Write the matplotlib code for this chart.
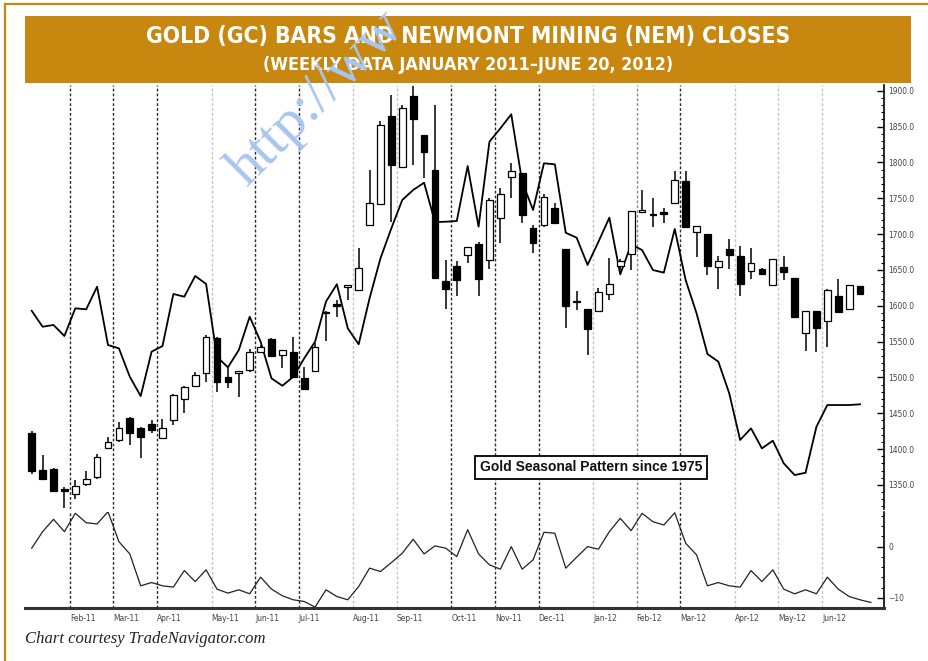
import numpy as np
import pandas as pd
import matplotlib
matplotlib.use("Agg")
import matplotlib.pyplot as plt
from matplotlib.patches import Rectangle
from matplotlib.lines import Line2D
from matplotlib.ticker import MultipleLocator, FormatStrFormatter, FixedLocator

# Weekly gold futures bars (Jan 2011 - Jun 20, 2012)
weeks = pd.date_range("2011-01-07", periods=77, freq="W-FRI")

gold_open = [1423, 1371, 1372, 1345, 1337, 1351, 1361, 1402, 1413, 1444,
             1430, 1435, 1416, 1441, 1470, 1488, 1506, 1555, 1501, 1506,
             1510, 1536, 1554, 1531, 1536, 1499, 1509, 1590, 1603, 1626,
             1622, 1713, 1742, 1865, 1793, 1892, 1838, 1789, 1634, 1656,
             1671, 1686, 1664, 1722, 1780, 1785, 1709, 1712, 1737, 1679,
             1607, 1596, 1593, 1616, 1655, 1672, 1731, 1728, 1731, 1744,
             1774, 1703, 1700, 1654, 1679, 1669, 1648, 1651, 1629, 1654,
             1639, 1562, 1593, 1579, 1614, 1596, 1628]
gold_high = [1425, 1392, 1373, 1347, 1357, 1369, 1393, 1417, 1438, 1445,
             1431, 1441, 1442, 1477, 1488, 1507, 1559, 1557, 1514, 1509,
             1540, 1545, 1555, 1539, 1557, 1514, 1548, 1593, 1608, 1629,
             1680, 1789, 1858, 1894, 1880, 1906, 1838, 1880, 1664, 1662,
             1682, 1689, 1750, 1765, 1799, 1785, 1713, 1756, 1744, 1679,
             1620, 1596, 1625, 1667, 1665, 1732, 1762, 1750, 1737, 1788,
             1788, 1711, 1700, 1669, 1693, 1683, 1680, 1653, 1665, 1669,
             1639, 1593, 1593, 1624, 1638, 1629, 1628]
gold_low = [1365, 1357, 1341, 1318, 1331, 1348, 1359, 1400, 1410, 1406,
            1387, 1422, 1414, 1434, 1450, 1488, 1494, 1480, 1485, 1473,
            1508, 1535, 1528, 1513, 1501, 1484, 1509, 1551, 1585, 1608,
            1622, 1713, 1742, 1717, 1793, 1796, 1778, 1639, 1595, 1614,
            1659, 1613, 1652, 1687, 1751, 1716, 1673, 1710, 1714, 1569,
            1594, 1532, 1593, 1608, 1650, 1650, 1731, 1710, 1716, 1744,
            1710, 1668, 1643, 1624, 1652, 1614, 1638, 1643, 1629, 1636,
            1585, 1537, 1535, 1542, 1590, 1596, 1616]
gold_close = [1369, 1359, 1342, 1342, 1349, 1359, 1389, 1410, 1429, 1423,
              1417, 1427, 1429, 1476, 1487, 1503, 1557, 1493, 1494, 1509,
              1536, 1543, 1530, 1539, 1501, 1484, 1543, 1592, 1600, 1629,
              1653, 1743, 1852, 1797, 1876, 1860, 1814, 1639, 1623, 1636,
              1682, 1637, 1748, 1756, 1788, 1727, 1687, 1752, 1716, 1599,
              1605, 1567, 1619, 1630, 1663, 1732, 1734, 1726, 1728, 1776,
              1710, 1711, 1656, 1662, 1671, 1630, 1659, 1644, 1665, 1647,
              1585, 1593, 1569, 1622, 1591, 1629, 1616]

# Newmont weekly closes (own unlabeled scale)
nem_close = [56.93, 55.83, 55.95, 55.19, 57.10, 57.03, 58.59, 54.57, 54.34, 52.38,
             51.05, 54.11, 54.50, 58.09, 57.90, 59.33, 58.78, 53.76, 53.03, 54.22,
             56.52, 54.80, 52.27, 51.76, 52.38, 53.65, 54.80, 57.56, 58.76, 55.72,
             54.62, 57.79, 60.55, 62.62, 64.57, 65.26, 65.76, 63.05, 63.07, 63.12,
             66.91, 62.73, 68.59, 69.51, 70.48, 65.83, 63.88, 67.10, 67.03, 62.31,
             61.97, 60.09, 61.69, 63.35, 59.44, 61.51, 61.12, 59.74, 59.56, 62.57,
             59.05, 56.76, 53.95, 53.42, 51.24, 48.02, 48.82, 47.44, 47.97, 46.41,
             45.60, 45.76, 48.93, 50.43, 50.43, 50.43, 50.48]

# Gold seasonal pattern since 1975 (lower pane), one extra week at the end
seasonal = [-0.31, 2.91, 5.32, 2.91, 6.49, 4.66, 4.41, 6.80, 0.97, -1.42,
            -7.63, -6.99, -7.63, -7.88, -4.66, -6.80, -4.52, -8.27, -9.05, -8.41,
            -9.18, -5.94, -8.27, -9.57, -10.35, -10.68, -11.77, -8.41, -9.71, -10.35,
            -7.77, -4.19, -4.85, -3.11, -1.28, 1.44, -1.42, 0.14, -0.31, -1.94,
            3.30, -1.42, -3.55, -4.39, 0.00, -4.39, -2.58, 2.80, 2.60, -4.19,
            -2.06, 0.00, -0.50, 2.91, 5.51, 3.11, 6.49, 4.85, 4.21, 6.60,
            0.66, -1.61, -7.63, -6.99, -7.63, -7.88, -4.66, -6.80, -4.52, -8.27,
            -9.18, -8.41, -9.18, -5.94, -8.27, -9.71, -10.35, -10.87]

# shade of the monthly separator lines
dark_months = ["Feb-11", "Mar-11", "Apr-11", "Jun-11", "Jul-11", "Oct-11",
               "Nov-11", "Dec-11", "Mar-12"]
medium_months = ["Feb-12"]

ORANGE = "#c8870e"
NARROW = ["DejaVu Sans"]

W, H = 929, 661
fig = plt.figure(figsize=(W / 100, H / 100), dpi=100)


def rect(x0, y0, x1, y1):
    # pixel box -> figure fraction [left, bottom, width, height]
    return [x0 / W, 1 - y1 / H, (x1 - x0) / W, (y1 - y0) / H]


ax1 = fig.add_axes(rect(25, 85, 884, 509))
ax_nem = ax1.twinx()
ax2 = fig.add_axes(rect(25, 512, 884, 607.5), sharex=ax1)

# NEM line and month separators sit behind the candles
ax_nem.set_zorder(ax1.get_zorder() - 1)
ax1.patch.set_visible(False)

idx = np.arange(len(weeks))

# month separators: first week whose Friday falls in a new month
month_pos, month_lab = [], []
for i in range(1, len(weeks)):
    if weeks[i].month != weeks[i - 1].month:
        month_pos.append(i - 0.5)
        month_lab.append(weeks[i].strftime("%b-%y"))

for pos, lab in zip(month_pos, month_lab):
    if lab in dark_months:
        col = "#2a2a2a"
    elif lab in medium_months:
        col = "#8a8a8a"
    else:
        col = "#c4c4c4"
    for a in (ax_nem, ax2):
        a.axvline(pos, color=col, lw=1.0, ls=(0, (2, 1.5)), zorder=0)

# candles
o = np.array(gold_open, float)
c = np.array(gold_close, float)
hi = np.array(gold_high, float)
lo = np.array(gold_low, float)
up = c >= o
body_bot = np.minimum(o, c)
body_h = np.maximum(np.abs(c - o), 1.6)
ax1.vlines(idx, lo, hi, color="black", lw=1.1, zorder=2)
ax1.bar(idx, body_h, bottom=body_bot, width=0.62,
        color=np.where(up, "white", "black"), edgecolor="black", lw=0.9, zorder=3)

ax_nem.plot(idx, nem_close, color="black", lw=1.3, zorder=2)

ax2.plot(np.arange(len(seasonal)), seasonal, color="#222222", lw=0.9)

# limits
ax1.set_xlim(-0.615, 78.2)
ax1.set_ylim(1316.5, 1908)
ax_nem.set_ylim(43.26, 72.5)
ax2.set_ylim(-11.85, 6.74)

# spines / ticks
for a in (ax1, ax_nem, ax2):
    for s in ("left", "top", "bottom"):
        a.spines[s].set_visible(False)
ax_nem.spines["right"].set_visible(False)
ax_nem.set_yticks([])
ax1.spines["right"].set_linewidth(1.2)
ax2.spines["right"].set_linewidth(1.2)
ax2.spines["bottom"].set_visible(True)
ax2.spines["bottom"].set_linewidth(2.2)
ax2.spines["bottom"].set_color("#333333")

ax1.yaxis.set_major_locator(MultipleLocator(50))
ax1.yaxis.set_minor_locator(MultipleLocator(10))
ax1.yaxis.set_major_formatter(FormatStrFormatter("%.1f"))
ax1.tick_params(axis="y", which="both", direction="in", left=False, right=True,
                labelleft=False, labelright=True, labelsize=6, labelcolor="#444444", pad=3)
ax1.tick_params(axis="y", which="major", length=5, width=1)
ax1.tick_params(axis="y", which="minor", length=2.5, width=0.8)
ax1.tick_params(axis="x", which="both", bottom=False, labelbottom=False)

ax2.yaxis.set_major_locator(FixedLocator([-10, 0]))
ax2.yaxis.set_minor_locator(MultipleLocator(2))
ax2.tick_params(axis="y", which="both", direction="in", left=False, right=True,
                labelleft=False, labelright=True, labelsize=6, labelcolor="#444444", pad=3)
ax2.tick_params(axis="y", which="major", length=5, width=1)
ax2.tick_params(axis="y", which="minor", length=2.5, width=0.8)
ax2.set_xticks(month_pos)
ax2.set_xticklabels(month_lab)
ax2.tick_params(axis="x", which="both", length=0, labelsize=6, labelcolor="#444444", pad=5)
for t in ax2.get_xticklabels() + ax2.get_yticklabels() + ax1.get_yticklabels():
    t.set_family(NARROW)
    t.set_stretch("condensed")
for t in ax2.get_xticklabels():
    t.set_horizontalalignment("left")

ax1.text(0.6587, 0.098, "Gold Seasonal Pattern since 1975", transform=ax1.transAxes,
         ha="center", va="center", fontsize=10, fontweight="bold",
         family=["Liberation Sans", "DejaVu Sans"], color="#111111", zorder=6,
         bbox=dict(boxstyle="square,pad=0.35", fc="white", ec="black", lw=1.3))

# frame and title band
fig.add_artist(Line2D([5 / W, 5 / W], [0, 1 - 4 / H], color=ORANGE, lw=1.6,
                      transform=fig.transFigure, zorder=1))
fig.add_artist(Line2D([5 / W, 1], [1 - 4 / H, 1 - 4 / H], color=ORANGE, lw=1.6,
                      transform=fig.transFigure, zorder=1))
b = rect(25, 16, 911, 83.3)
fig.add_artist(Rectangle((b[0], b[1]), b[2], b[3], transform=fig.transFigure,
                         fc=ORANGE, ec="none", zorder=1))
fig.text(468 / W, 1 - 37 / H, "GOLD (GC) BARS AND NEWMONT MINING (NEM) CLOSES",
         ha="center", va="center", color="white", fontsize=16.4, fontweight="bold",
         family=NARROW, stretch="condensed", zorder=2)
fig.text(468 / W, 1 - 65 / H, "(WEEKLY DATA JANUARY 2011\u2013JUNE 20, 2012)",
         ha="center", va="center", color="white", fontsize=12.9, fontweight="bold",
         family=NARROW, stretch="condensed", zorder=2)

fig.text(25 / W, 1 - 639 / H, "Chart courtesy TradeNavigator.com", ha="left", va="center",
         fontsize=12, style="italic", family=["Liberation Serif", "DejaVu Serif"],
         color="#222222")

# watermark
fig.text(247 / W, 1 - 188 / H, "http://ww", rotation=45, rotation_mode="anchor",
         ha="left", va="baseline", fontsize=42, color="#a9c6f0",
         family=["Liberation Serif", "DejaVu Serif"], zorder=5)

fig.savefig("out.png", dpi=100)
